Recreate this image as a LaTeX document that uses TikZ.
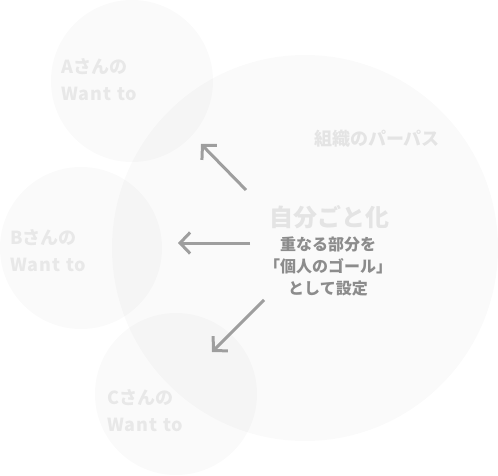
\documentclass[tikz,border=0pt]{standalone}
\usepackage{fontspec}
\newfontfamily\jp{Noto Sans CJK JP}
\newfontfamily\lat{Noto Sans CJK JP}[LetterSpace=6]
\usetikzlibrary{arrows.meta}
\definecolor{labelgray}{HTML}{E8E8E8}
\definecolor{titlegray}{HTML}{E4E4E4}
\definecolor{textgray}{HTML}{8C8C8C}
\definecolor{arrowgray}{HTML}{9E9E9E}
\newcommand{\wl}[1]{{\lat\bfseries #1}}
\begin{document}
\begin{tikzpicture}[x=1pt,y=-1pt,
  bubble/.style={circle, draw=none, fill=black, fill opacity=0.02, inner sep=0pt},
  wantlabel/.style={font=\jp\bfseries\fontsize{18}{27}\selectfont, text=labelgray, align=left, anchor=base west, inner sep=0pt},
  title/.style={font=\jp\bfseries\fontsize{18}{27}\selectfont, text=titlegray, inner sep=0pt},
  bigtitle/.style={font=\jp\bfseries\fontsize{24}{30}\selectfont, text=titlegray, inner sep=0pt},
  note/.style={font=\jp\bfseries\fontsize{16}{22}\selectfont, text=textgray, align=center, inner sep=0pt},
  arrowline/.style={draw=arrowgray, line width=3pt, -{Straight Barb[length=10pt,width=21pt]}}
]
\useasboundingbox (0,0) rectangle (498,476);
\node[bubble, minimum size=386pt] (P) at (305,248) {};
\node[bubble, minimum size=162pt] (A) at (132,81) {};
\node[bubble, minimum size=162pt] (B) at (81,248) {};
\node[bubble, minimum size=162pt] (C) at (176,394) {};

\node[wantlabel] (Alab) at (61,101) {\wl{A}さんの\\\wl{Want to}};
\node[wantlabel] (Blab) at (10,271) {\wl{B}さんの\\\wl{Want to}};
\node[wantlabel] (Clab) at (107,431) {\wl{C}さんの\\\wl{Want to}};
\node[title] (Ptitle) at (377,139) {組織のパーパス};

\node[bigtitle] (own) at (329,217) {自分ごと化};
\node[note] (goal) at (328,266) {重なる部分を\\「個人のゴール」\\として設定};

\coordinate (t1) at (246,190); \coordinate (h1) at (201,144);
\coordinate (t2) at (250,243); \coordinate (h2) at (178,243);
\coordinate (t3) at (264,300); \coordinate (h3) at (212,352);
\draw[arrowline] (t1) -- (h1);
\draw[arrowline] (t2) -- (h2);
\draw[arrowline] (t3) -- (h3);
\end{tikzpicture}
\end{document}
